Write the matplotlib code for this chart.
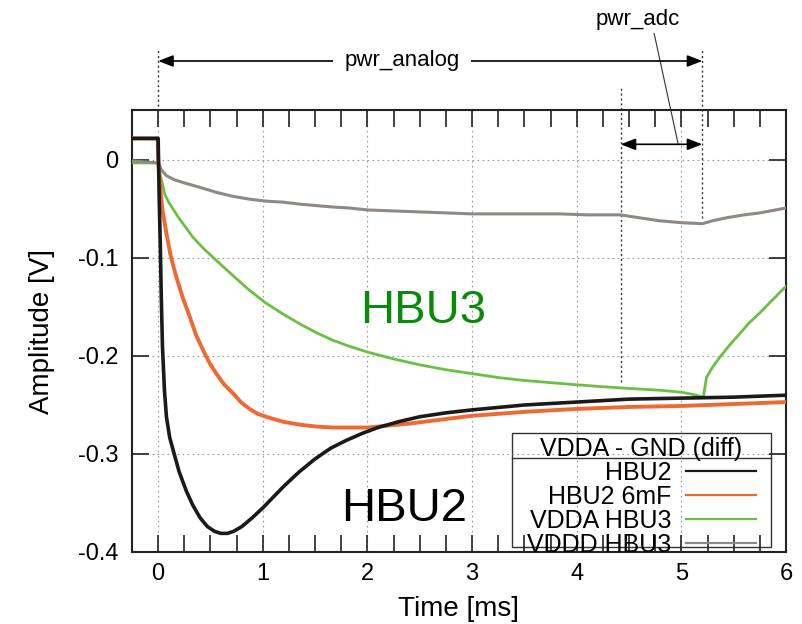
import matplotlib
matplotlib.use("Agg")
import matplotlib.pyplot as plt
from matplotlib.patches import Rectangle
from matplotlib.ticker import MultipleLocator

plt.rcParams['font.family'] = ['Liberation Sans', 'DejaVu Sans']
plt.rcParams['axes.unicode_minus'] = False

# traces (time in ms, amplitude in V)
t_hbu2 = [-0.25, -0.005, 0.0, 0.01, 0.02, 0.03, 0.041, 0.06, 0.079, 0.11, 0.143, 0.2,
          0.27, 0.33, 0.4, 0.47, 0.54, 0.6, 0.66, 0.72, 0.8, 0.9, 1.0, 1.1, 1.2, 1.35,
          1.5, 1.65, 1.8, 1.95, 2.1, 2.3, 2.5, 2.75, 3.0, 3.5, 4.0, 4.5, 5.0, 5.5, 6.0]
v_hbu2 = [0.022, 0.022, 0.022, -0.04, -0.085, -0.14, -0.19, -0.235, -0.262, -0.283,
          -0.296, -0.318, -0.338, -0.352, -0.365, -0.374, -0.379, -0.381, -0.381, -0.379,
          -0.374, -0.365, -0.355, -0.344, -0.333, -0.318, -0.305, -0.294, -0.286, -0.279,
          -0.273, -0.267, -0.262, -0.258, -0.255, -0.250, -0.247, -0.244, -0.243, -0.242,
          -0.240]

t_hbu2_6mf = [-0.25, -0.005, 0.0, 0.016, 0.04, 0.079, 0.12, 0.175, 0.24, 0.302, 0.36,
              0.429, 0.49, 0.556, 0.63, 0.714, 0.79, 0.873, 0.95, 1.03, 1.19, 1.35, 1.508,
              1.67, 1.825, 2.0, 2.2, 2.4, 2.7, 3.0, 3.5, 4.0, 4.5, 5.0, 5.5, 6.0]
v_hbu2_6mf = [0.022, 0.022, 0.0, -0.024, -0.050, -0.075, -0.098, -0.120, -0.142, -0.160,
              -0.178, -0.194, -0.207, -0.218, -0.229, -0.238, -0.247, -0.254, -0.259,
              -0.262, -0.267, -0.270, -0.272, -0.273, -0.273, -0.273, -0.271, -0.269,
              -0.265, -0.261, -0.257, -0.254, -0.252, -0.251, -0.249, -0.247]

t_vdda = [-0.25, -0.01, 0.0, 0.02, 0.063, 0.1, 0.19, 0.333, 0.44, 0.556, 0.71, 0.873,
          1.03, 1.19, 1.35, 1.508, 1.67, 1.825, 2.0, 2.25, 2.5, 2.75, 3.0, 3.25, 3.5, 3.84,
          4.2, 4.48, 4.8, 5.0, 5.1, 5.18, 5.21, 5.24, 5.3, 5.37, 5.46, 5.56, 5.65, 5.75,
          5.86, 5.97, 6.0]
v_vdda = [-0.003, -0.003, -0.004, -0.015, -0.035, -0.043, -0.058, -0.079, -0.091,
          -0.1025, -0.1175, -0.133, -0.146, -0.157, -0.167, -0.176, -0.184, -0.190, -0.196,
          -0.203, -0.209, -0.214, -0.218, -0.222, -0.225, -0.228, -0.231, -0.233, -0.235,
          -0.237, -0.239, -0.241, -0.242, -0.222, -0.211, -0.201, -0.189, -0.177, -0.166,
          -0.156, -0.144, -0.132, -0.129]

t_vddd = [-0.25, 0.0, 0.03, 0.079, 0.15, 0.238, 0.4, 0.556, 0.71, 0.873, 1.03, 1.19,
          1.35, 1.508, 1.67, 1.825, 2.0, 2.5, 3.0, 3.5, 3.84, 4.1, 4.42, 4.6, 4.79, 5.0,
          5.2, 5.3, 5.43, 5.6, 5.75, 5.9, 6.0]
v_vddd = [-0.001, -0.003, -0.010, -0.016, -0.020, -0.023, -0.028, -0.033, -0.037,
          -0.040, -0.042, -0.043, -0.045, -0.0465, -0.048, -0.049, -0.051, -0.053, -0.055,
          -0.055, -0.055, -0.056, -0.056, -0.059, -0.062, -0.064, -0.065, -0.062, -0.059,
          -0.056, -0.054, -0.051, -0.049]

series_labels = ['HBU2', 'HBU2 6mF', 'VDDA HBU3', 'VDDD HBU3']
series_colors = ['#1a1a1a', '#ee6a35', '#6cbf45', '#8e8984']

xtick_vals = [0, 1, 2, 3, 4, 5, 6]
xtick_labels = ['0', '1', '2', '3', '4', '5', '6']
ytick_vals = [0, -0.1, -0.2, -0.3, -0.4]
ytick_labels = ['0', '-0.1', '-0.2', '-0.3', '-0.4']

fig = plt.figure(figsize=(8.02, 6.24), dpi=100)
ax = fig.add_axes([132 / 802, 1 - 552 / 624, 654 / 802, 442 / 624])

ax.plot(t_hbu2, v_hbu2, color=series_colors[0], lw=2.6, label=series_labels[0], zorder=5)
ax.plot(t_hbu2_6mf, v_hbu2_6mf, color=series_colors[1], lw=2.8, label=series_labels[1], zorder=4)
ax.plot(t_vdda, v_vdda, color=series_colors[2], lw=2.0, label=series_labels[2], zorder=3)
ax.plot(t_vddd, v_vddd, color=series_colors[3], lw=2.2, label=series_labels[3], zorder=3)

ax.set_xlim(-0.25, 6)
ax.set_ylim(-0.4, 0.051)
ax.set_xticks(xtick_vals)
ax.set_xticklabels(xtick_labels)
ax.set_yticks(ytick_vals)
ax.set_yticklabels(ytick_labels)
ax.xaxis.set_minor_locator(MultipleLocator(0.25))
ax.tick_params(axis='both', which='both', direction='in', color='#222', width=1.2,
               top=True, right=True, labelsize=17)
ax.tick_params(axis='x', which='both', length=12, pad=8)
ax.tick_params(axis='y', which='major', length=12, pad=10)
ax.grid(True, which='major', color='#9a9a9a', lw=0.8, linestyle=(0, (1.5, 3)))
for s in ax.spines.values():
    s.set_color('#222')
    s.set_linewidth(1.5)

ax.set_xlabel('Time [ms]', fontsize=20, labelpad=8)
ax.set_ylabel('Amplitude [V]', fontsize=20, labelpad=16)

# in-plot labels
ax.text(2.53, -0.154, 'HBU3', color='#0a8a0a', fontsize=34, ha='center', va='center')
ax.text(2.35, -0.356, 'HBU2', color='black', fontsize=34, ha='center', va='center')

# power domain markers
ax.vlines(0, 0.05, 0.114, colors='#333', linestyles=(0, (1.5, 2)), lw=1, clip_on=False)
ax.vlines(5.2, -0.059, 0.112, colors='#333', linestyles=(0, (1.5, 2)), lw=1, clip_on=False)
ax.vlines(4.42, -0.2265, 0.0755, colors='#333', linestyles=(0, (1.5, 2)), lw=1, clip_on=False)

arrow = dict(arrowstyle='<|-|>, head_length=0.9, head_width=0.35', color='black',
             lw=1.2, shrinkA=0, shrinkB=0, mutation_scale=10)
ax.annotate('', xy=(0, 0.101), xytext=(5.2, 0.101), arrowprops=arrow, annotation_clip=False)
ax.text(2.33, 0.101, 'pwr_analog', fontsize=16, ha='center', va='center',
        bbox=dict(boxstyle='square,pad=0.5', fc='white', ec='none'), clip_on=False)
ax.annotate('', xy=(4.42, 0.016), xytext=(5.2, 0.016), arrowprops=arrow, annotation_clip=False)
ax.plot([4.74, 4.97], [0.129, 0.016], color='#333', lw=0.8, clip_on=False)
ax.text(4.58, 0.143, 'pwr_adc', fontsize=16, ha='center', va='center', clip_on=False)

# gnuplot-style key: box drawn separately, title separated by a rule
leg = ax.legend(loc='upper right', bbox_to_anchor=(0.962, 0.272), borderaxespad=0,
                title='VDDA - GND (diff)', fontsize=18, title_fontsize=18,
                markerfirst=False, handlelength=2.8, handletextpad=0.6,
                labelspacing=0.0, borderpad=0.2, frameon=False)
for line in leg.get_lines():
    line.set_linewidth(1.6)
ax.add_patch(Rectangle((0.581, 0.011), 0.396, 0.258, transform=ax.transAxes,
                       fill=False, ec='#333', lw=1.0, clip_on=False))
ax.plot([0.581, 0.977], [0.2127, 0.2127], color='#333', lw=1.0, transform=ax.transAxes)

fig.savefig('out.png', dpi=100)
